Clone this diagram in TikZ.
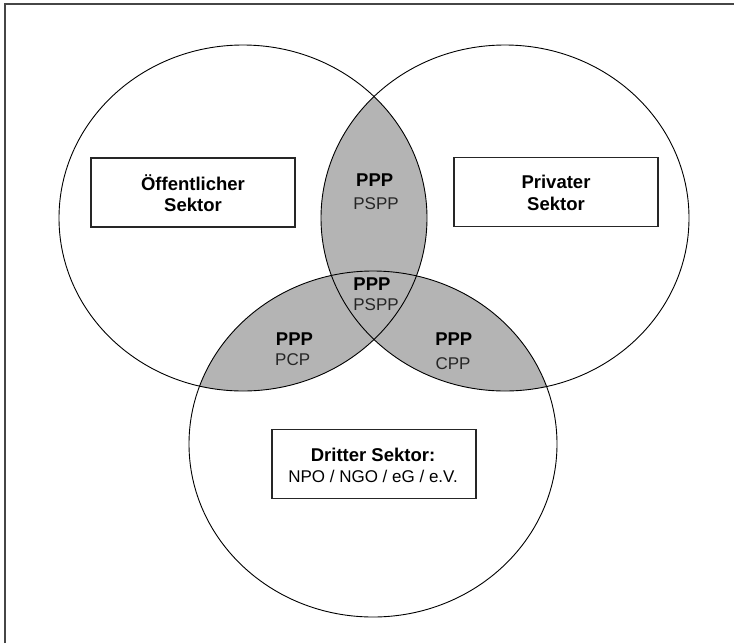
\documentclass[tikz,border=0pt]{standalone}
\usepackage{fontspec}
\setmainfont{Liberation Sans}
\definecolor{lensgray}{RGB}{180,180,180}
\definecolor{framegray}{RGB}{70,70,70}
\tikzset{
  set/.style={draw=black, line width=0.9pt},
  sectorbox/.style={draw=black!85, line width=1.8pt, minimum width=204pt, minimum height=69pt, inner sep=0pt},
  bold/.style={font=\bfseries\fontsize{18.5}{21}\selectfont, anchor=base, inner sep=0pt},
  reg/.style={font=\fontsize{17}{20}\selectfont, anchor=base, inner sep=0pt, text=black!85},
}
\begin{document}
\begin{tikzpicture}[x=1pt,y=-1pt]
\useasboundingbox (0,0) rectangle (734,643);
% centres
\coordinate (L) at (243,218);
\coordinate (R) at (505,218);
\coordinate (B) at (373,444);
% shaded intersections
\begin{scope}
  \clip (L) ellipse [x radius=184pt, y radius=173pt];
  \fill[lensgray] (R) ellipse [x radius=184pt, y radius=173pt];
  \fill[lensgray] (B) ellipse [x radius=184pt, y radius=173pt];
\end{scope}
\begin{scope}
  \clip (R) ellipse [x radius=184pt, y radius=173pt];
  \fill[lensgray] (B) ellipse [x radius=184pt, y radius=173pt];
\end{scope}
% outlines
\draw[set] (L) ellipse [x radius=184pt, y radius=173pt];
\draw[set] (R) ellipse [x radius=184pt, y radius=173pt];
\draw[set] (B) ellipse [x radius=184pt, y radius=173pt];
% frame
\draw[framegray, line width=2pt] (5,643) -- (5,4) -- (734,4);
% boxes
\node[sectorbox] (oeff) at (193,192.5) {};
\node[sectorbox] (priv) at (556,192) {};
\node[sectorbox] (dritt) at (374,464) {};
\node[bold] (oeff1) at (193,190) {Öffentlicher};
\node[bold] (oeff2) at (193,211) {Sektor};
\node[bold] (priv1) at (556,188.3) {Privater};
\node[bold] (priv2) at (556,210.7) {Sektor};
\node[bold] (dritt1) at (373,461) {Dritter Sektor:};
\node[reg, text=black] (dritt2) at (373,482) {NPO / NGO / eG / e.V.};
% lens labels
\node[bold] (t1) at (374.7,186.7) {PPP};
\node[reg] (t2) at (376,209) {PSPP};
\node[bold] (c1) at (372,290) {PPP};
\node[reg] (c2) at (376,310.7) {PSPP};
\node[bold] (l1) at (294.5,345) {PPP};
\node[reg] (l2) at (292.7,365.7) {PCP};
\node[bold] (r1) at (453.8,345) {PPP};
\node[reg] (r2) at (453,369) {CPP};
\end{tikzpicture}
\end{document}
